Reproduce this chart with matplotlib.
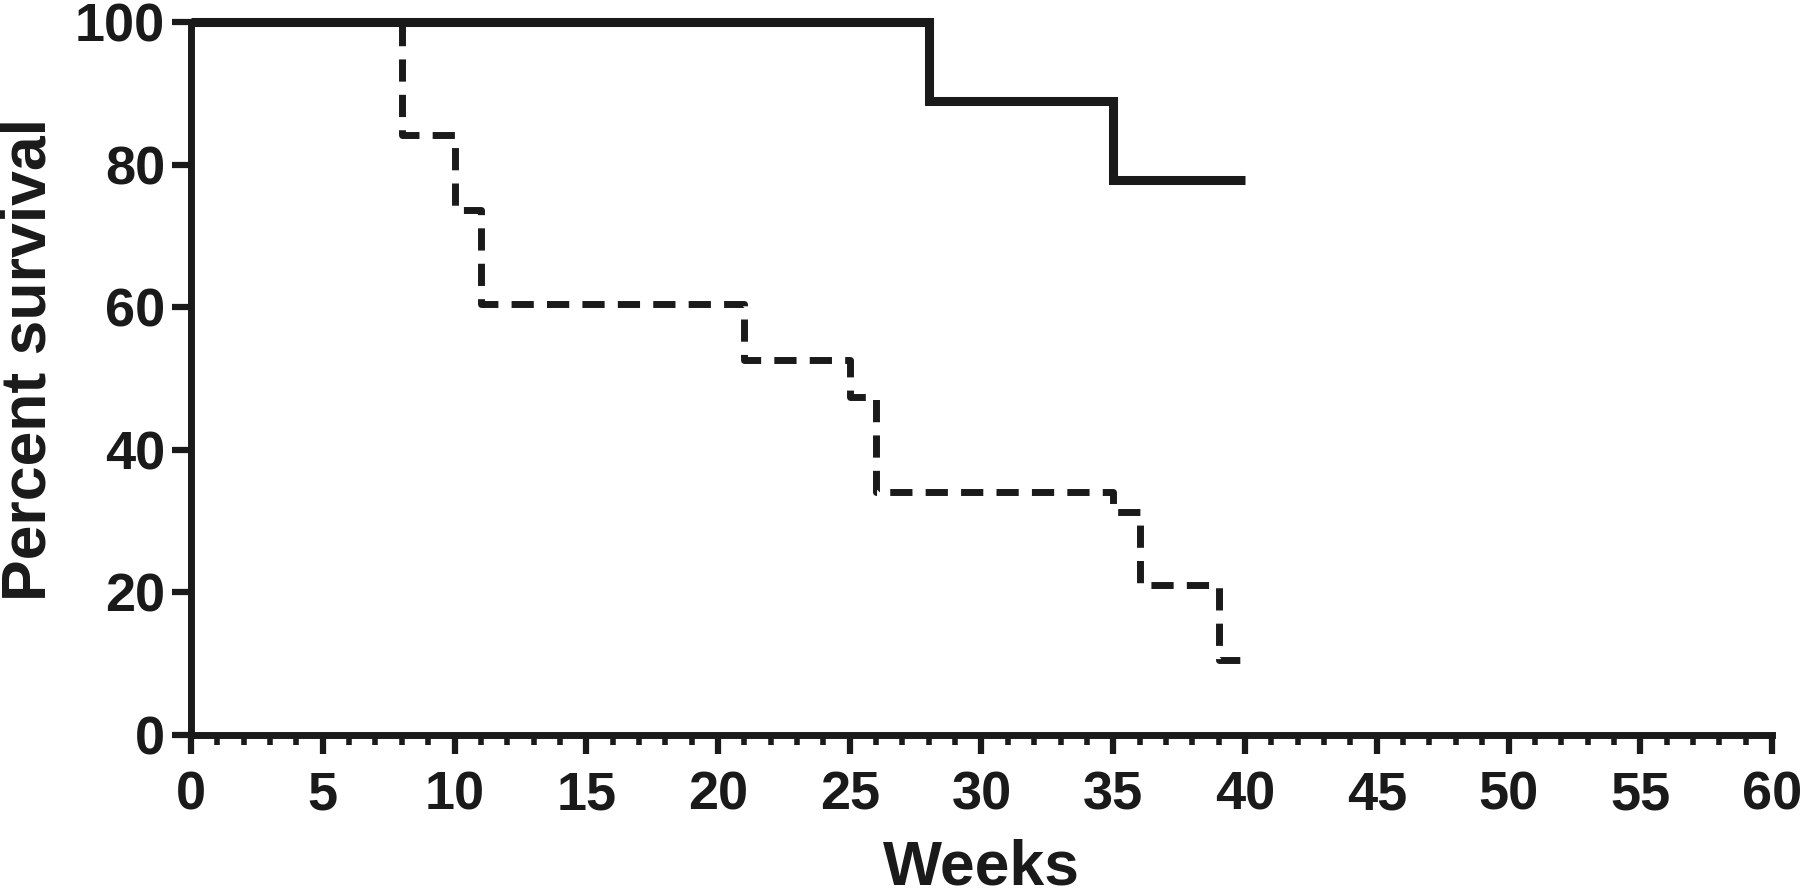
import matplotlib
matplotlib.use("Agg")
import matplotlib.pyplot as plt
from matplotlib.ticker import MultipleLocator

# Data (Kaplan-Meier steps)
solid_weeks = [0, 28, 35, 40]
solid_survival = [100, 88.9, 77.8, 77.8]

dashed_weeks = [0, 8, 10, 11, 21, 25, 26, 35, 36, 39, 40]
dashed_survival = [100, 84.2, 73.7, 60.5, 52.6, 47.4, 34.1, 31.3, 21.0, 10.5, 10.5]

x_ticks = list(range(0, 61, 5))
y_ticks = [0, 20, 40, 60, 80, 100]
x_label = "Weeks"
y_label = "Percent survival"

plt.rcParams['font.family'] = ['Liberation Sans', 'DejaVu Sans']
plt.rcParams['font.weight'] = 'bold'

fig = plt.figure(figsize=(18, 8.91), dpi=100)
ax = fig.add_axes([191/1800, 1 - 735/891, (1772 - 191)/1800, (735 - 22)/891])

ax.plot(dashed_weeks, dashed_survival, drawstyle='steps-post', color='#1a1a1a',
        lw=5.0, linestyle=(0, (3.2, 1.9)), dash_capstyle='butt', clip_on=False, zorder=3)
ax.plot(solid_weeks, solid_survival, drawstyle='steps-post', color='#1a1a1a',
        lw=6.5, solid_joinstyle='miter', solid_capstyle='butt', clip_on=False, zorder=4)

ax.set_xlim(0, 60)
ax.set_ylim(0, 100)
ax.set_xticks(x_ticks)
ax.set_yticks(y_ticks)
ax.xaxis.set_minor_locator(MultipleLocator(1))

for s in ['top', 'right']:
    ax.spines[s].set_visible(False)
for s in ['left', 'bottom']:
    ax.spines[s].set_linewidth(5)
    ax.spines[s].set_color('#1a1a1a')

ax.tick_params(axis='x', which='major', direction='out', length=13.7, width=4.5,
               pad=12, labelsize=39, colors='#1a1a1a')
ax.tick_params(axis='x', which='minor', direction='out', length=7.2, width=4.0, colors='#1a1a1a')
ax.tick_params(axis='y', which='major', direction='out', length=13.7, width=4.5,
               pad=5, labelsize=39, colors='#1a1a1a')
for lab in ax.get_xticklabels() + ax.get_yticklabels():
    lab.set_fontweight('bold')

ax.set_xlabel(x_label, fontsize=45, fontweight='bold', color='#1a1a1a')
ax.set_ylabel(y_label, fontsize=45, fontweight='bold', color='#1a1a1a')
ax.xaxis.set_label_coords(0.5, -0.145)
ax.yaxis.set_label_coords(-0.0835, 0.527)

fig.savefig("out.png", dpi=100)
